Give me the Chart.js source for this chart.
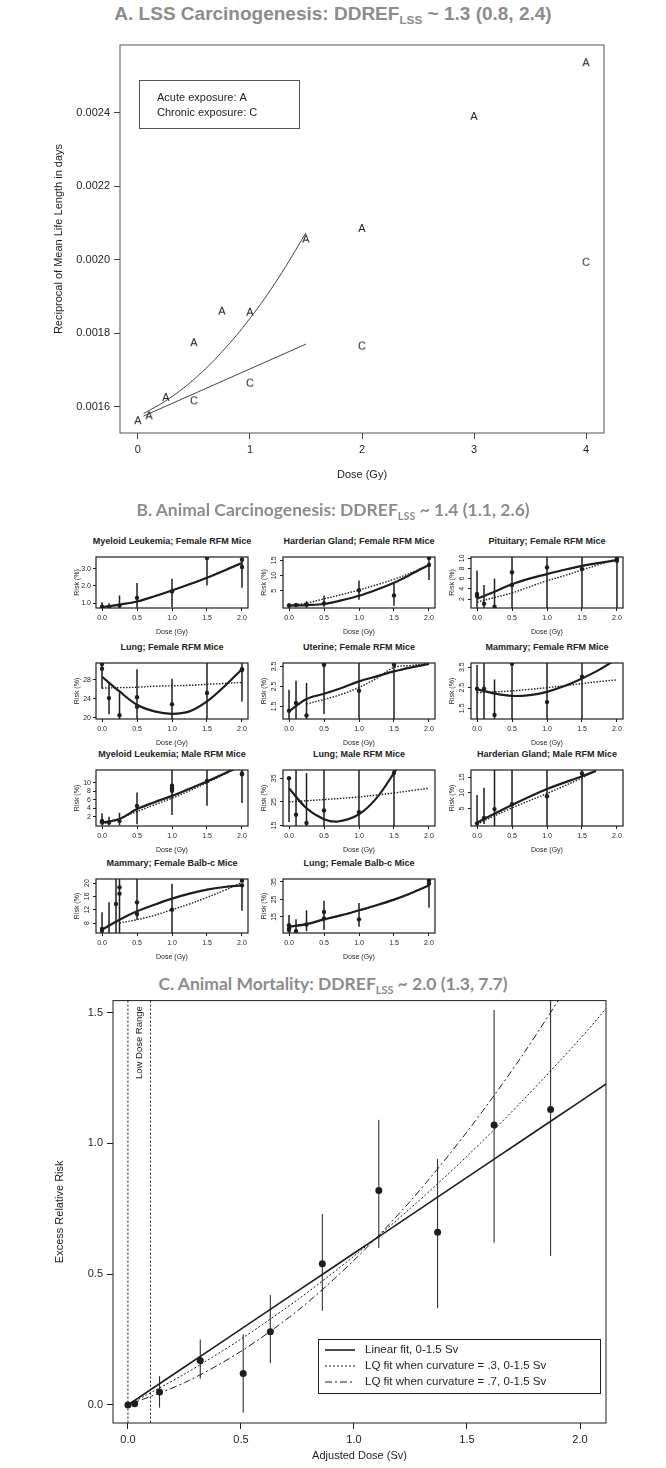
<!DOCTYPE html>
<html>
<head>
<meta charset="utf-8">
<title>DDREF estimates</title>
<script src="https://cdn.jsdelivr.net/npm/chart.js@4.4.1/dist/chart.umd.min.js"></script>
<style>
  body { margin: 0; background: #fff; }
  #page { position: relative; width: 666px; height: 1468px; overflow: hidden; }
  .panel-title { position: absolute; left: 0; width: 666px; text-align: center; color: #8c8c8c; white-space: nowrap; }
  .panel-title sub { font-size: 0.62em; vertical-align: -0.35em; }
  #titleA { top: 3px; font: bold 19px "Liberation Sans", Arial, sans-serif; }
  #titleB { top: 499px; font: bold 17.5px Lato, "Open Sans", sans-serif; }
  #titleC { top: 973px; font: bold 17.5px Lato, "Open Sans", sans-serif; }
  .sub-title { position: absolute; width: 200px; text-align: center; font: bold 9px "Liberation Sans", Arial, sans-serif; color: #222; white-space: nowrap; }
  canvas { position: absolute; }
</style>
</head>
<body>
<div id="page">
  <div class="panel-title" id="titleA">A. LSS Carcinogenesis: DDREF<sub>LSS</sub> ~ 1.3 (0.8, 2.4)</div>
  <canvas id="chartA" width="666" height="472" style="left:0;top:28px"></canvas>

  <div class="panel-title" id="titleB">B. Animal Carcinogenesis: DDREF<sub>LSS</sub> ~ 1.4 (1.1, 2.6)</div>

  <div class="panel-title" id="titleC">C. Animal Mortality: DDREF<sub>LSS</sub> ~ 2.0 (1.3, 7.7)</div>
  <canvas id="chartC" width="666" height="478" style="left:0;top:990px"></canvas>
</div>

<script>
// ---------- A. LSS carcinogenesis ----------
const aDoseTicks = [0, 1, 2, 3, 4];
const aRateTicks = [0.0016, 0.0018, 0.0020, 0.0022, 0.0024];
const aAcuteX = [0, 0.1, 0.25, 0.5, 0.75, 1, 1.5, 2, 3, 4];
const aAcuteY = [0.001564, 0.001577, 0.001627, 0.001776, 0.001862, 0.001859, 0.002058, 0.002087, 0.002392, 0.002538];
const aChronicX = [0.5, 1, 2, 4];
const aChronicY = [0.001618, 0.001666, 0.001767, 0.001995];
const aAcuteFitX = [0.05, 0.25, 0.5, 0.75, 1.0, 1.25, 1.5];
const aAcuteFitY = [0.001582, 0.001617, 0.001675, 0.001750, 0.001841, 0.001949, 0.002074];
const aChronicFitX = [0.05, 1.5];
const aChronicFitY = [0.001575, 0.001771];
const aLegendLines = ['Acute exposure: A', 'Chronic exposure: C'];

// ---------- B. Animal carcinogenesis (11 small panels) ----------
const bDoseTicks = [0, 0.5, 1.0, 1.5, 2.0];
const bFitX = [0, 0.25, 0.5, 0.75, 1.0, 1.25, 1.5, 1.75, 2.0];

// Myeloid Leukemia; Female RFM Mice
const mlfDoseX = [0, 0, 0.1, 0.25, 0.5, 1.0, 1.5, 2.0, 2.0];
const mlfRisk = [0.80, 0.73, 0.77, 0.86, 1.31, 1.68, 3.62, 3.52, 3.10];
const mlfBarX = [0, 0.1, 0.25, 0.5, 1.0, 1.5, 2.0];
const mlfBarLo = [0.73, 0.73, 0.73, 0.73, 0.77, 2.03, 1.90];
const mlfBarHi = [1.06, 1.00, 1.45, 2.17, 2.42, 3.68, 3.68];
const mlfSolid = [0.77, 0.92, 1.10, 1.40, 1.74, 2.10, 2.48, 2.90, 3.33];
const mlfDotted = [0.75, 0.90, 1.09, 1.39, 1.73, 2.10, 2.49, 2.92, 3.36];
const mlfRange = [0.72, 3.68];
const mlfTicks = [1.0, 2.0, 3.0];

// Harderian Gland; Female RFM Mice
const hgfDoseX = [0, 0.1, 0.25, 0.5, 1.0, 1.5, 2.0, 2.0];
const hgfRisk = [0.2, 0.4, 0.5, 0.9, 5.2, 3.5, 15.8, 13.5];
const hgfBarX = [0, 0.25, 0.5, 1.0, 1.5, 2.0];
const hgfBarLo = [-0.5, -0.5, -0.2, 2.1, 0.1, 8.6];
const hgfBarHi = [0.9, 1.6, 3.4, 8.4, 7.3, 16.2];
const hgfSolid = [0.2, 0.35, 0.7, 1.9, 3.4, 5.4, 7.7, 10.5, 13.5];
const hgfDotted = [0.2, 1.0, 2.4, 3.8, 5.3, 7.0, 8.8, 11.0, 13.5];
const hgfRange = [-0.6, 16.1];
const hgfTicks = [5, 10, 15];

// Pituitary; Female RFM Mice
const pitDoseX = [0, 0, 0.1, 0.25, 0.5, 0.5, 1.0, 1.5, 2.0, 2.0];
const pitRisk = [3.0, 2.6, 1.1, 0.5, 7.25, 4.75, 8.2, 7.9, 9.9, 9.5];
const pitBarX = [0, 0.1, 0.25, 0.5, 1.0, 1.5, 2.0];
const pitBarLo = [0.3, 0.25, 0.25, 0.2, 0.2, 0.2, 0.2];
const pitBarHi = [7.6, 4.75, 6.0, 10.3, 10.3, 10.3, 10.3];
const pitSolid = [2.05, 3.45, 4.9, 6.0, 6.9, 7.75, 8.5, 9.1, 9.6];
const pitDotted = [1.4, 2.3, 3.2, 4.4, 5.6, 6.6, 7.7, 8.8, 9.9];
const pitRange = [0.25, 10.25];
const pitTicks = [2, 4, 6, 8, 10];

// Lung; Female RFM Mice
const lgfDoseX = [0, 0, 0.1, 0.25, 0.5, 0.5, 1.0, 1.5, 2.0, 2.0];
const lgfRisk = [31.3, 30.3, 24.1, 20.5, 24.3, 22.3, 22.8, 25.2, 30.2, 30.0];
const lgfBarX = [0, 0.1, 0.25, 0.5, 1.0, 1.5, 2.0];
const lgfBarLo = [26.1, 20.7, 19.7, 19.7, 19.7, 19.7, 23.4];
const lgfBarHi = [31.5, 27.4, 25.3, 30.2, 28.2, 31.5, 31.5];
const lgfSolid = [28.6, 25.5, 22.7, 21.3, 20.8, 21.3, 23.4, 26.6, 30.2];
const lgfDotted = [26.2, 26.3, 26.4, 26.6, 26.7, 26.8, 27.0, 27.2, 27.4];
const lgfRange = [19.7, 31.5];
const lgfTicks = [20, 24, 28];

// Uterine; Female RFM Mice
const utfDoseX = [0, 0.1, 0.25, 0.5, 1.0, 1.5];
const utfRisk = [1.28, 1.67, 1.05, 3.58, 2.28, 3.58];
const utfBarX = [0, 0.1, 0.25, 0.5, 1.0, 1.5];
const utfBarLo = [0.87, 0.87, 0.87, 1.12, 0.87, 0.87];
const utfBarHi = [2.33, 2.78, 2.67, 3.67, 3.67, 3.67];
const utfSolid = [1.25, 1.87, 2.13, 2.42, 2.75, 3.0, 3.25, 3.45, 3.62];
const utfDotX = [0.25, 0.5, 0.75, 1.0, 1.25, 1.5, 1.75, 2.0];
const utfDotted = [1.62, 1.85, 2.1, 2.45, 2.9, 3.45, 3.55, 3.65];
const utfRange = [0.87, 3.67];
const utfTicks = [1.5, 2.5, 3.5];

// Mammary; Female RFM Mice
const mmfDoseX = [0, 0.1, 0.25, 0.5, 1.0, 1.5];
const mmfRisk = [2.45, 2.45, 1.18, 3.66, 1.8, 3.03];
const mmfBarX = [0, 0.1, 0.25, 0.5, 1.0, 1.5];
const mmfBarLo = [0.98, 0.98, 0.98, 0.98, 0.98, 0.98];
const mmfBarHi = [3.6, 3.7, 2.9, 3.7, 3.7, 3.7];
const mmfSolid = [2.42, 2.22, 2.1, 2.14, 2.3, 2.58, 2.95, 3.38, 3.9];
const mmfDotted = [2.26, 2.3, 2.34, 2.42, 2.5, 2.6, 2.7, 2.8, 2.88];
const mmfRange = [0.98, 3.7];
const mmfTicks = [1.5, 2.5, 3.5];

// Myeloid Leukemia; Male RFM Mice
const mlmDoseX = [0, 0, 0.1, 0.25, 0.5, 1.0, 1.0, 1.0, 1.5, 2.0, 2.0];
const mlmRisk = [1.0, 0.7, 0.6, 1.0, 4.5, 9.3, 8.7, 8.1, 10.4, 12.2, 12.0];
const mlmBarX = [0, 0.1, 0.25, 0.5, 1.0, 1.5, 2.0];
const mlmBarLo = [0, 0, 0, 0.2, 2.4, 4.6, 5.2];
const mlmBarHi = [2.8, 2.0, 2.9, 7.7, 13, 13, 13];
const mlmSolid = [0.6, 1.45, 3.8, 5.4, 6.9, 8.6, 10.3, 12.2, 14.0];
const mlmDotted = [0.2, 1.6, 3.2, 4.8, 6.35, 8.1, 10.0, 12.0, 14.3];
const mlmRange = [-0.2, 13];
const mlmTicks = [2, 4, 6, 8, 10];

// Lung; Male RFM Mice
const lgmDoseX = [0, 0.1, 0.25, 0.5, 1.0, 1.5];
const lgmRisk = [35, 19.6, 16.1, 21.4, 20.6, 37.3];
const lgmBarX = [0, 0.1, 0.25, 0.5, 1.0, 1.5];
const lgmBarLo = [16.5, 14.8, 14.8, 14.8, 14.8, 14.8];
const lgmBarHi = [35.5, 38.5, 37.2, 38.5, 38.5, 38.5];
const lgmSolidX = [0, 0.25, 0.5, 0.7, 1.0, 1.25, 1.5, 1.6];
const lgmSolid = [30.8, 22.3, 17.7, 16.7, 19.8, 26.6, 37.3, 42.5];
const lgmDotted = [25, 25.5, 26, 26.5, 27.1, 27.9, 28.8, 29.8, 30.8];
const lgmRange = [14.8, 38.5];
const lgmTicks = [15, 25, 35];

// Harderian Gland; Male RFM Mice
const hgmDoseX = [0, 0.1, 0.25, 0.5, 1.0, 1.5];
const hgmRisk = [0.2, 2.0, 4.8, 6.4, 8.9, 16.2];
const hgmBarX = [0, 0.1, 0.25, 0.5, 1.0, 1.5];
const hgmBarLo = [0, 0, -0.6, -0.6, -0.6, -0.6];
const hgmBarHi = [9.3, 11.6, 17.3, 17.3, 17.3, 17.3];
const hgmSolidX = [0, 0.5, 1.0, 1.5, 1.7];
const hgmSolid = [0.5, 6.1, 11.2, 15.3, 17.0];
const hgmDotX = [0, 0.5, 1.0, 1.5, 1.65];
const hgmDotted = [0, 5.2, 9.8, 14.8, 16.7];
const hgmRange = [-0.6, 17.3];
const hgmTicks = [5, 10, 15];

// Mammary; Female Balb-c Mice
const mmbDoseX = [0, 0, 0.2, 0.25, 0.25, 0.5, 0.5, 1.0, 2.0, 2.0];
const mmbRisk = [6.2, 5.7, 13.7, 18.7, 16.8, 14.2, 10.7, 12.0, 20.7, 19.3];
const mmbBarX = [0, 0.1, 0.2, 0.25, 0.5, 1.0, 2.0];
const mmbBarLo = [5.0, 5.0, 5.0, 5.0, 9.0, 5.0, 11.7];
const mmbBarHi = [11.2, 14.2, 21.2, 21.2, 21.2, 19.8, 19.8];
const mmbSolid = [6.0, 9.0, 11.5, 13.5, 15.3, 16.8, 18.0, 18.8, 19.3];
const mmbDotX = [0.25, 0.5, 0.75, 1.0, 1.25, 1.5, 1.75, 2.0];
const mmbDotted = [8.0, 9.0, 10.3, 12.0, 13.7, 15.7, 17.8, 20.2];
const mmbRange = [5.0, 21.2];
const mmbTicks = [8, 12, 16, 20];

// Lung; Female Balb-c Mice
const lgbDoseX = [0, 0, 0, 0.1, 0.25, 0.5, 0.5, 1.0, 2.0, 2.0];
const lgbRisk = [10.3, 8.4, 7.5, 6.9, 10.7, 17.8, 14.1, 13.6, 34.1, 35.7];
const lgbBarX = [0, 0.1, 0.25, 0.5, 1.0, 2.0];
const lgbBarLo = [5.8, 5.8, 6.8, 7.5, 9.4, 20.3];
const lgbBarHi = [16.1, 13.7, 18.8, 24.2, 23.0, 36.7];
const lgbSolid = [9.4, 10.9, 13.6, 16.0, 18.8, 21.7, 24.9, 28.7, 33.0];
const lgbDotted = [9.2, 10.7, 13.4, 15.8, 18.6, 21.5, 24.8, 28.6, 33.0];
const lgbRange = [5.8, 36.7];
const lgbTicks = [15, 25, 35];

// ---------- C. Animal mortality ----------
const cDoseTicks = [0, 0.5, 1.0, 1.5, 2.0];
const cRiskTicks = [0, 0.5, 1.0, 1.5];
const cDose = [0.0, 0.03, 0.14, 0.32, 0.51, 0.63, 0.86, 1.11, 1.37, 1.62, 1.87];
const cErr = [0.0, 0.005, 0.05, 0.17, 0.12, 0.28, 0.54, 0.82, 0.66, 1.07, 1.13];
const cErrLo = [0.0, 0.0, -0.01, 0.10, -0.03, 0.16, 0.36, 0.60, 0.37, 0.62, 0.57];
const cErrHi = [0.0, 0.01, 0.11, 0.25, 0.27, 0.42, 0.73, 1.09, 0.94, 1.51, 1.65];
const cFitX = [0, 0.25, 0.5, 0.75, 1.0, 1.25, 1.5, 1.75, 2.0, 2.12];
const cLinear = [0, 0.145, 0.29, 0.435, 0.58, 0.725, 0.87, 1.015, 1.16, 1.23];
const cLQ3 = [0, 0.118, 0.252, 0.402, 0.569, 0.752, 0.951, 1.167, 1.40, 1.52];
const cLQ7 = [0, 0.085, 0.205, 0.36, 0.553, 0.78, 1.044, 1.343, 1.68, 1.86];
const cLegendLabels = ['Linear fit, 0-1.5 Sv', 'LQ fit when curvature = .3, 0-1.5 Sv', 'LQ fit when curvature = .7, 0-1.5 Sv'];
const lowDoseRange = [0, 0.1];

// ================= helpers =================
const INK = '#1e1e1e';
Chart.defaults.font.family = '"Liberation Sans", Arial, sans-serif';
Chart.defaults.color = INK;
Chart.defaults.animation = false;
Chart.defaults.plugins.legend.display = false;
Chart.defaults.plugins.tooltip.enabled = false;

function xy(xs, ys) {
    return xs.map((x, i) => ({x: x, y: ys[i]}));
}

function fixedTicks(values) {
    return function (scale) {
        scale.ticks = values.map(v => ({value: v}));
    };
}

function framePlugin(color, width) {
    return {
        id: 'frame',
        afterDraw(chart) {
            const a = chart.chartArea;
            const ctx = chart.ctx;
            ctx.save();
            ctx.strokeStyle = color;
            ctx.lineWidth = width;
            ctx.strokeRect(a.left, a.top, a.right - a.left, a.bottom - a.top);
            ctx.restore();
        }
    };
}

function errorBarPlugin(xs, lo, hi, width) {
    return {
        id: 'errorBars',
        beforeDatasetsDraw(chart) {
            const a = chart.chartArea;
            const ctx = chart.ctx;
            const sx = chart.scales.x;
            const sy = chart.scales.y;
            ctx.save();
            ctx.beginPath();
            ctx.rect(a.left, a.top, a.right - a.left, a.bottom - a.top);
            ctx.clip();
            ctx.strokeStyle = INK;
            ctx.lineWidth = width;
            xs.forEach((x, i) => {
                const px = sx.getPixelForValue(x);
                ctx.beginPath();
                ctx.moveTo(px, sy.getPixelForValue(lo[i]));
                ctx.lineTo(px, sy.getPixelForValue(hi[i]));
                ctx.stroke();
            });
            ctx.restore();
        }
    };
}

// y tick labels of the small panels, either flat or turned along the axis
function yLabelPlugin(values, decimals, flat) {
    return {
        id: 'yLabels',
        afterDraw(chart) {
            const a = chart.chartArea;
            const ctx = chart.ctx;
            const sy = chart.scales.y;
            ctx.save();
            ctx.fillStyle = INK;
            ctx.font = '7px "Liberation Sans", Arial, sans-serif';
            values.forEach(v => {
                const py = sy.getPixelForValue(v);
                const label = v.toFixed(decimals);
                if (flat) {
                    ctx.textAlign = 'right';
                    ctx.textBaseline = 'middle';
                    ctx.fillText(label, a.left - 5, py);
                } else {
                    ctx.save();
                    ctx.translate(a.left - 5, py);
                    ctx.rotate(-Math.PI / 2);
                    ctx.textAlign = 'center';
                    ctx.textBaseline = 'bottom';
                    ctx.fillText(label, 0, 0);
                    ctx.restore();
                }
            });
            ctx.restore();
        }
    };
}

function letterMark(ch) {
    const c = document.createElement('canvas');
    c.width = 12;
    c.height = 14;
    const g = c.getContext('2d');
    g.fillStyle = INK;
    g.font = '11px "Liberation Sans", Arial, sans-serif';
    g.textAlign = 'center';
    g.textBaseline = 'middle';
    g.fillText(ch, 6, 7.5);
    return c;
}

function lineSet(xs, ys, width, dash, tension) {
    return {
        type: 'line',
        data: xy(xs, ys),
        borderColor: INK,
        borderWidth: width,
        borderDash: dash,
        pointRadius: 0,
        tension: tension,
        fill: false
    };
}

// ========== 1. PANEL A ==========

const legendBoxA = {
    id: 'legendBoxA',
    afterDraw(chart) {
        const a = chart.chartArea;
        const ctx = chart.ctx;
        const bx = a.left + 19, by = a.top + 35;
        ctx.save();
        ctx.strokeStyle = '#555';
        ctx.lineWidth = 1;
        ctx.strokeRect(bx + 0.5, by + 0.5, 160, 48);
        ctx.fillStyle = INK;
        ctx.font = '11px "Liberation Sans", Arial, sans-serif';
        ctx.textBaseline = 'middle';
        aLegendLines.forEach((t, i) => ctx.fillText(t, bx + 18, by + 18 + i * 15));
        ctx.restore();
    }
};

new Chart(document.getElementById('chartA'), {
    type: 'scatter',
    data: {
        datasets: [
            {data: xy(aAcuteX, aAcuteY), pointStyle: letterMark('A'), pointRadius: 5},
            {data: xy(aChronicX, aChronicY), pointStyle: letterMark('C'), pointRadius: 5},
            Object.assign(lineSet(aAcuteFitX, aAcuteFitY, 1, [], 0.4), {borderColor: '#444'}),
            Object.assign(lineSet(aChronicFitX, aChronicFitY, 1, [], 0), {borderColor: '#444'})
        ]
    },
    options: {
        responsive: false,
        layout: {padding: {left: 46, right: 62, top: 17, bottom: 15}},
        scales: {
            x: {
                type: 'linear', min: -0.16, max: 4.16,
                afterBuildTicks: fixedTicks(aDoseTicks),
                afterFit: s => { s.height = 52; },
                ticks: {font: {size: 11}, padding: 4, autoSkip: false, maxRotation: 0, callback: v => String(v)},
                grid: {drawOnChartArea: false, tickLength: 6, color: '#444'},
                border: {display: false},
                title: {display: true, text: 'Dose (Gy)', font: {size: 11}, padding: {top: 4, bottom: 3}}
            },
            y: {
                min: 0.001529, max: 0.002585,
                afterBuildTicks: fixedTicks(aRateTicks),
                afterFit: s => { s.width = 74; },
                ticks: {font: {size: 11}, padding: 4, callback: v => v.toFixed(4)},
                grid: {drawOnChartArea: false, tickLength: 6, color: '#444'},
                border: {display: false},
                title: {display: true, text: 'Reciprocal of Mean Life Length in days', font: {size: 11}, padding: {top: 6, bottom: 0}}
            }
        }
    },
    plugins: [framePlugin('#555', 1), legendBoxA]
});

// ========== 2. PANEL B ==========

const bColLeft = [96, 283, 471];
const bRowTop = [557, 663, 770, 879];
const bRowHeight = [51, 56, 56, 54];
const bBoxWidth = 152;

const bPanels = [
    {title: 'Myeloid Leukemia; Female RFM Mice', col: 0, row: 0, x: mlfDoseX, y: mlfRisk, bx: mlfBarX, lo: mlfBarLo, hi: mlfBarHi, sx: bFitX, s: mlfSolid, dx: bFitX, d: mlfDotted, range: mlfRange, ticks: mlfTicks, dec: 1, flat: true},
    {title: 'Harderian Gland; Female RFM Mice', col: 1, row: 0, x: hgfDoseX, y: hgfRisk, bx: hgfBarX, lo: hgfBarLo, hi: hgfBarHi, sx: bFitX, s: hgfSolid, dx: bFitX, d: hgfDotted, range: hgfRange, ticks: hgfTicks, dec: 0, flat: false},
    {title: 'Pituitary; Female RFM Mice', col: 2, row: 0, x: pitDoseX, y: pitRisk, bx: pitBarX, lo: pitBarLo, hi: pitBarHi, sx: bFitX, s: pitSolid, dx: bFitX, d: pitDotted, range: pitRange, ticks: pitTicks, dec: 0, flat: false},
    {title: 'Lung; Female RFM Mice', col: 0, row: 1, x: lgfDoseX, y: lgfRisk, bx: lgfBarX, lo: lgfBarLo, hi: lgfBarHi, sx: bFitX, s: lgfSolid, dx: bFitX, d: lgfDotted, range: lgfRange, ticks: lgfTicks, dec: 0, flat: true},
    {title: 'Uterine; Female RFM Mice', col: 1, row: 1, x: utfDoseX, y: utfRisk, bx: utfBarX, lo: utfBarLo, hi: utfBarHi, sx: bFitX, s: utfSolid, dx: utfDotX, d: utfDotted, range: utfRange, ticks: utfTicks, dec: 1, flat: false},
    {title: 'Mammary; Female RFM Mice', col: 2, row: 1, x: mmfDoseX, y: mmfRisk, bx: mmfBarX, lo: mmfBarLo, hi: mmfBarHi, sx: bFitX, s: mmfSolid, dx: bFitX, d: mmfDotted, range: mmfRange, ticks: mmfTicks, dec: 1, flat: false},
    {title: 'Myeloid Leukemia; Male RFM Mice', col: 0, row: 2, x: mlmDoseX, y: mlmRisk, bx: mlmBarX, lo: mlmBarLo, hi: mlmBarHi, sx: bFitX, s: mlmSolid, dx: bFitX, d: mlmDotted, range: mlmRange, ticks: mlmTicks, dec: 0, flat: true},
    {title: 'Lung; Male RFM Mice', col: 1, row: 2, x: lgmDoseX, y: lgmRisk, bx: lgmBarX, lo: lgmBarLo, hi: lgmBarHi, sx: lgmSolidX, s: lgmSolid, dx: bFitX, d: lgmDotted, range: lgmRange, ticks: lgmTicks, dec: 0, flat: false},
    {title: 'Harderian Gland; Male RFM Mice', col: 2, row: 2, x: hgmDoseX, y: hgmRisk, bx: hgmBarX, lo: hgmBarLo, hi: hgmBarHi, sx: hgmSolidX, s: hgmSolid, dx: hgmDotX, d: hgmDotted, range: hgmRange, ticks: hgmTicks, dec: 0, flat: false},
    {title: 'Mammary; Female Balb-c Mice', col: 0, row: 3, x: mmbDoseX, y: mmbRisk, bx: mmbBarX, lo: mmbBarLo, hi: mmbBarHi, sx: bFitX, s: mmbSolid, dx: mmbDotX, d: mmbDotted, range: mmbRange, ticks: mmbTicks, dec: 0, flat: false},
    {title: 'Lung; Female Balb-c Mice', col: 1, row: 3, x: lgbDoseX, y: lgbRisk, bx: lgbBarX, lo: lgbBarLo, hi: lgbBarHi, sx: bFitX, s: lgbSolid, dx: bFitX, d: lgbDotted, range: lgbRange, ticks: lgbTicks, dec: 0, flat: false}
];

const page = document.getElementById('page');

bPanels.forEach(p => {
    const left = bColLeft[p.col];
    const top = bRowTop[p.row];
    const h = bRowHeight[p.row];

    const label = document.createElement('div');
    label.className = 'sub-title';
    label.textContent = p.title;
    label.style.left = (left + bBoxWidth / 2 - 100) + 'px';
    label.style.top = (top - 21) + 'px';
    page.appendChild(label);

    const canvas = document.createElement('canvas');
    canvas.width = 28 + bBoxWidth + 6;
    canvas.height = 4 + h + 30;
    canvas.style.left = (left - 28) + 'px';
    canvas.style.top = (top - 4) + 'px';
    page.appendChild(canvas);

    new Chart(canvas, {
        type: 'scatter',
        data: {
            datasets: [
                {data: xy(p.x, p.y), pointRadius: 2.2, backgroundColor: INK, borderWidth: 0},
                lineSet(p.sx, p.s, 2.2, [], 0.35),
                lineSet(p.dx, p.d, 1.4, [1.5, 1.5], 0.35)
            ]
        },
        options: {
            responsive: false,
            layout: {padding: {left: 0, right: 6, top: 4, bottom: 0}},
            scales: {
                x: {
                    type: 'linear', min: -0.086, max: 2.086,
                    afterBuildTicks: fixedTicks(bDoseTicks),
                    afterFit: s => { s.height = 30; },
                    ticks: {font: {size: 7}, padding: 3, autoSkip: false, maxRotation: 0, callback: v => v.toFixed(1)},
                    grid: {drawOnChartArea: false, tickLength: 3, color: INK},
                    border: {display: false},
                    title: {display: true, text: 'Dose (Gy)', font: {size: 7}, padding: {top: 0, bottom: 2}}
                },
                y: {
                    min: p.range[0], max: p.range[1],
                    afterBuildTicks: fixedTicks(p.ticks),
                    afterFit: s => { s.width = 28; },
                    ticks: {display: false},
                    grid: {drawOnChartArea: false, tickLength: 3, color: INK},
                    border: {display: false},
                    title: {display: true, text: 'Risk (%)', font: {size: 7}, padding: {top: 5, bottom: 0}}
                }
            }
        },
        plugins: [errorBarPlugin(p.bx, p.lo, p.hi, 1.5), yLabelPlugin(p.ticks, p.dec, p.flat), framePlugin(INK, 1.2)]
    });
});

// ========== 3. PANEL C ==========

const lowDosePlugin = {
    id: 'lowDose',
    beforeDatasetsDraw(chart) {
        const a = chart.chartArea;
        const ctx = chart.ctx;
        const sx = chart.scales.x;
        ctx.save();
        ctx.strokeStyle = INK;
        ctx.lineWidth = 1;
        ctx.setLineDash([2, 2]);
        lowDoseRange.forEach(v => {
            const px = sx.getPixelForValue(v);
            ctx.beginPath();
            ctx.moveTo(px, a.top);
            ctx.lineTo(px, a.bottom);
            ctx.stroke();
        });
        ctx.setLineDash([]);
        const mid = (sx.getPixelForValue(lowDoseRange[0]) + sx.getPixelForValue(lowDoseRange[1])) / 2;
        ctx.translate(mid, a.top + 42);
        ctx.rotate(-Math.PI / 2);
        ctx.font = '9.5px "Liberation Sans", Arial, sans-serif';
        ctx.textAlign = 'center';
        ctx.textBaseline = 'middle';
        ctx.fillStyle = INK;
        ctx.fillText('Low Dose Range', 0, 0);
        ctx.restore();
    }
};

const cLegendPlugin = {
    id: 'cLegend',
    afterDraw(chart) {
        const a = chart.chartArea;
        const ctx = chart.ctx;
        const bx = a.left + 205, by = a.bottom - 84, bw = 282, bh = 54;
        ctx.save();
        ctx.fillStyle = '#fff';
        ctx.fillRect(bx, by, bw, bh);
        ctx.strokeStyle = INK;
        ctx.lineWidth = 1;
        ctx.strokeRect(bx + 0.5, by + 0.5, bw, bh);
        ctx.font = '11.5px "Liberation Sans", Arial, sans-serif';
        ctx.textBaseline = 'middle';
        ctx.fillStyle = INK;
        cLegendLabels.forEach((label, i) => {
            const ds = chart.data.datasets[i + 1];
            const y = by + 11 + i * 16;
            ctx.setLineDash(ds.borderDash || []);
            ctx.lineWidth = ds.borderWidth;
            ctx.beginPath();
            ctx.moveTo(bx + 7, y);
            ctx.lineTo(bx + 37, y);
            ctx.stroke();
            ctx.setLineDash([]);
            ctx.fillText(label, bx + 47, y);
        });
        ctx.restore();
    }
};

new Chart(document.getElementById('chartC'), {
    type: 'scatter',
    data: {
        datasets: [
            {data: xy(cDose, cErr), pointRadius: 3.5, backgroundColor: INK, borderWidth: 0},
            lineSet(cFitX, cLinear, 1.6, [], 0.3),
            lineSet(cFitX, cLQ3, 1, [2, 2], 0.3),
            lineSet(cFitX, cLQ7, 1, [7, 3, 2, 3], 0.3)
        ]
    },
    options: {
        responsive: false,
        layout: {padding: {left: 48, right: 60, top: 10, bottom: 5}},
        scales: {
            x: {
                type: 'linear', min: -0.066, max: 2.115,
                afterBuildTicks: fixedTicks(cDoseTicks),
                afterFit: s => { s.height = 40; },
                ticks: {font: {size: 11}, padding: 4, autoSkip: false, maxRotation: 0, callback: v => v.toFixed(1)},
                grid: {drawOnChartArea: false, tickLength: 6, color: INK},
                border: {display: false},
                title: {display: true, text: 'Adjusted Dose (Sv)', font: {size: 11}, padding: {top: 2, bottom: 0}}
            },
            y: {
                min: -0.069, max: 1.546,
                afterBuildTicks: fixedTicks(cRiskTicks),
                afterFit: s => { s.width = 65; },
                ticks: {font: {size: 11}, padding: 4, callback: v => v.toFixed(1)},
                grid: {drawOnChartArea: false, tickLength: 6, color: INK},
                border: {display: false},
                title: {display: true, text: 'Excess Relative Risk', font: {size: 11}, padding: {top: 5, bottom: 0}}
            }
        }
    },
    plugins: [errorBarPlugin(cDose, cErrLo, cErrHi, 1), lowDosePlugin, framePlugin(INK, 1), cLegendPlugin]
});
</script>
</body>
</html>
